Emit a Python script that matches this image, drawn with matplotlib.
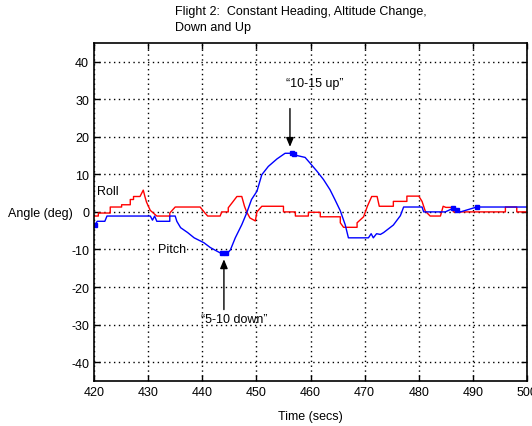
import matplotlib
matplotlib.use("Agg")
import matplotlib.pyplot as plt

plt.rcParams["font.family"] = ["Liberation Sans", "DejaVu Sans"]
plt.rcParams["font.size"] = 9
plt.rcParams["axes.unicode_minus"] = False

# Roll trace (deg) against time (s)
roll_t = [420, 420.8, 420.8, 423, 423, 425.1, 425.1, 426.7, 426.7, 427.3, 427.3, 428.5,
          429.1, 429.4, 429.7, 430.4, 431.6, 434, 434, 435, 439.6, 440.5, 441, 443.3,
          443.6, 444.8, 444.8, 445.5, 446.4, 447.3, 447.8, 448.2, 448.8, 449.8, 450.1, 451,
          455, 455, 457.2, 457.2, 459.6, 459.6, 461.8, 461.8, 465.5, 465.5, 466.1, 468.6,
          468.6, 469.8, 470.5, 471.3, 472.3, 472.7, 475.3, 475.3, 477.8, 477.8, 480, 480.6,
          481.2, 482.1, 484, 484.5, 485, 486.1, 486.4, 496, 496, 498.1, 498.1, 500]
roll = [-1.1, -1.1, -0.3, -0.3, 1.3, 1.3, 1.9, 1.9, 3.3, 3.3, 4.1, 4.1,
        5.8, 4.1, 2.6, 0.4, -1.1, -1.1, -0.3, 1.3, 1.3, -0.3, -1.1, -1.1,
        0.0, 0.0, 1.1, 2.4, 4.1, 4.1, 1.5, 0.0, -1.6, -2.4, 0.0, 1.5,
        1.5, 0.0, 0.0, -1.1, -1.1, -0.1, -0.1, -1.3, -1.3, -2.9, -4.1, -4.1,
        -2.9, -1.3, 1.5, 4.1, 4.1, 1.5, 1.5, 2.8, 2.8, 4.2, 4.2, 2.8,
        0.2, -1.1, -1.1, 1.5, 1.2, 1.2, 0, 0, 1.3, 1.3, 0, 0]

# Pitch trace (deg) against time (s)
pitch_t = [420, 420.6, 422, 422.4, 430.4, 430.8, 431.2, 431.6, 434, 434, 435, 435.3,
           436, 437.3, 438.5, 440.3, 441.5, 443.3, 444.7, 445.2, 446.1, 447.3, 448.2,
           449.1, 450.1, 451.0, 452.2, 453.8, 455.3, 456.5, 457.5, 459, 459.9, 461.2, 462.4,
           463.6, 464.5, 465.5, 466.4, 467, 470.7, 471.2, 471.6, 472.2, 472.9, 473.5,
           475.3, 476.6, 477.2, 480.6, 480.9, 484.9, 486.1, 486.4, 487, 487.7, 490.7, 500]
pitch = [-3.8, -2.5, -2.5, -1.1, -1.1, -2.2, -1.1, -2.5, -2.5, -1.1, -1.1, -2.5,
         -4.2, -5.5, -6.9, -8.2, -9.5, -10.9, -10.9, -10.1, -6.9, -3.4, -0.3,
         3.3, 5.5, 9.9, 12.1, 14.1, 15.6, 15.6, 15.0, 14.5, 13.0, 10.8, 8.6,
         5.9, 3.3, 0.3, -3.4, -6.9, -6.9, -5.8, -6.9, -5.8, -6.0, -5.5,
         -3.5, -1.0, 1.3, 1.3, 0, 0, 0.8, 1.0, 0.5, 0, 1.3, 1.3]

# Sample points highlighted on the pitch trace
mark_t = [420.2, 443.6, 444.3, 456.6, 457.0, 486.4, 487.0, 490.7]
mark_v = [-3.6, -10.9, -10.9, 15.6, 15.5, 1.0, 0.5, 1.3]

fig = plt.figure(figsize=(5.32, 4.27), dpi=100)
ax = fig.add_axes([0.1767, 0.1054, 0.814, 0.792])

ax.plot(roll_t, roll, color="#ff0000", linewidth=1.0)
ax.plot(pitch_t, pitch, color="#0000ff", linewidth=1.0)
ax.plot(mark_t, mark_v, "s", color="#0000ff", markersize=3.5)

ax.set_xlim(420, 500)
ax.set_ylim(-45, 45)
ax.set_xticks(range(420, 501, 10))
ax.set_yticks(range(-40, 41, 10))
ax.grid(True, color="black", linestyle=(0, (1, 2.5)), linewidth=1.0)
ax.tick_params(direction="in", top=True, right=True, length=4, width=1, labelsize=9)
for spine in ax.spines.values():
    spine.set_linewidth(1.2)

ax.set_xlabel("Time (secs)", fontsize=9, labelpad=9)
fig.text(0.015, 1 - 214 / 427, "Angle (deg)", fontsize=9, ha="left", va="center")
fig.text(0.329, 0.985, "Flight 2:  Constant Heading, Altitude Change,\nDown and Up",
         fontsize=9, ha="left", va="top", linespacing=1.4)

ax.text(420.5, 5.6, "Roll", fontsize=9, ha="left", va="center")
ax.text(431.8, -10, "Pitch", fontsize=9, ha="left", va="center",
        bbox=dict(facecolor="white", edgecolor="none", pad=0.5))

# Callouts: label text plus a vertical arrow pointing at the extreme
ax.text(460.7, 34.2, "\u201c10-15 up\u201d", fontsize=9, ha="center", va="center")
ax.annotate("", xy=(456.2, 17.3), xytext=(456.2, 27.5),
            arrowprops=dict(arrowstyle="-|>,head_length=0.6,head_width=0.25",
                            color="black", linewidth=1, shrinkA=0, shrinkB=0))
ax.text(446.0, -28.6, "\u201c5-10 down\u201d", fontsize=9, ha="center", va="center")
ax.annotate("", xy=(444.0, -12.6), xytext=(444.0, -26.0),
            arrowprops=dict(arrowstyle="-|>,head_length=0.6,head_width=0.25",
                            color="black", linewidth=1, shrinkA=0, shrinkB=0))

fig.savefig("out.png", dpi=100)
